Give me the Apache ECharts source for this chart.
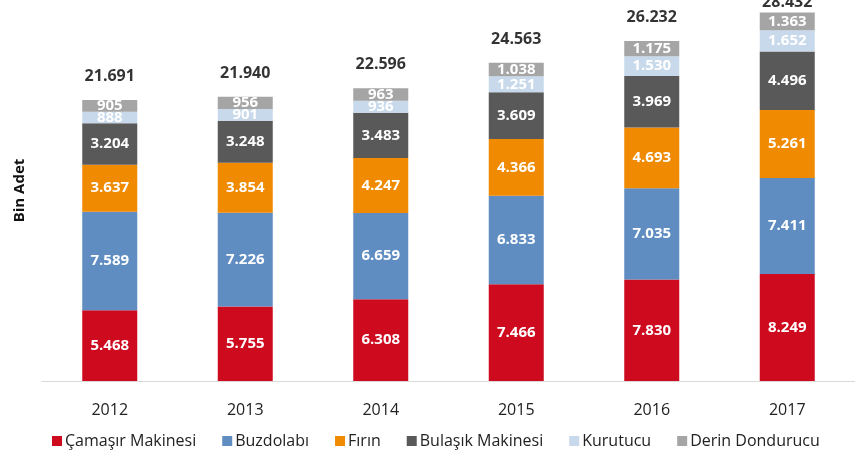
<!DOCTYPE html>
<html>
<head>
<meta charset="utf-8">
<script src="https://cdn.jsdelivr.net/npm/echarts@6/dist/echarts.min.js"></script>
<style>
html,body{margin:0;padding:0;background:#fff;}
#main{width:855px;height:453px;}
</style>
</head>
<body>
<div id="main"></div>
<script>
var years = ['2012', '2013', '2014', '2015', '2016', '2017'];
var camasir = [5468, 5755, 6308, 7466, 7830, 8249];
var buzdolabi = [7589, 7226, 6659, 6833, 7035, 7411];
var firin = [3637, 3854, 4247, 4366, 4693, 5261];
var bulasik = [3204, 3248, 3483, 3609, 3969, 4496];
var kurutucu = [888, 901, 936, 1251, 1530, 1652];
var derin = [905, 956, 963, 1038, 1175, 1363];
var totals = [21691, 21940, 22596, 24563, 26232, 28432];

var seriesNames = ['Çamaşır Makinesi', 'Buzdolabı', 'Fırın', 'Bulaşık Makinesi', 'Kurutucu', 'Derin Dondurucu'];
var seriesData = [camasir, buzdolabi, firin, bulasik, kurutucu, derin];
var colors = ['#CE0A1F', '#5F8DC2', '#F08A00', '#595959', '#C7D9EA', '#A5A5A5'];

function fmt(v) {
  return String(v).replace(/\B(?=(\d{3})+(?!\d))/g, '.');
}

var chart = echarts.init(document.getElementById('main'), null, {renderer: 'canvas'});

var series = seriesNames.map(function (name, i) {
  return {
    name: name,
    type: 'bar',
    stack: 'total',
    barWidth: 55,
    data: seriesData[i],
    itemStyle: {color: colors[i]},
    label: {
      show: true,
      position: 'inside',
      color: '#fff',
      fontFamily: 'Open Sans',
      fontWeight: 'bold',
      fontSize: 15,
      formatter: function (p) { return fmt(p.value); }
    },
    emphasis: {disabled: true},
    animation: false
  };
});

var totalData = totals.map(function (v, i) {
  var item = {value: v};
  if (i === totals.length - 1) {
    item.label = {distance: 2};
  }
  return item;
});

series.push({
  name: 'Toplam',
  type: 'scatter',
  data: totalData,
  symbol: 'rect',
  symbolSize: 1,
  itemStyle: {color: 'rgba(255,255,255,0)'},
  label: {
    show: true,
    position: 'top',
    distance: 15,
    color: '#000',
    fontFamily: 'Open Sans',
    fontWeight: 'bold',
    fontSize: 16,
    formatter: function (p) { return fmt(p.value); }
  },
  labelLayout: {hideOverlap: false},
  silent: true,
  animation: false,
  z: 10
});

chart.setOption({
  animation: false,
  grid: {left: 42, right: -3, top: 0, bottom: 72, containLabel: false},
  legend: {
    data: seriesNames,
    left: 47,
    top: 428,
    itemWidth: 10,
    itemHeight: 10,
    itemGap: 26,
    icon: 'rect',
    textStyle: {fontFamily: 'Open Sans', fontSize: 16, color: '#222', padding: [0, 0, 0, -2]}
  },
  xAxis: {
    type: 'category',
    data: years,
    axisLine: {show: true, lineStyle: {color: '#D9D9D9', width: 1}},
    axisTick: {show: false},
    axisLabel: {fontFamily: 'Open Sans', fontSize: 16, color: '#222', margin: 21}
  },
  yAxis: {
    type: 'value',
    min: 0,
    max: 29400,
    show: true,
    axisLine: {show: false},
    axisTick: {show: false},
    axisLabel: {show: false},
    splitLine: {show: false},
    name: 'Bin Adet',
    nameLocation: 'middle',
    nameGap: 15,
    nameTextStyle: {fontFamily: 'Open Sans', fontWeight: 'bold', fontSize: 15, color: '#111'}
  },
  series: series
});
</script>
</body>
</html>
